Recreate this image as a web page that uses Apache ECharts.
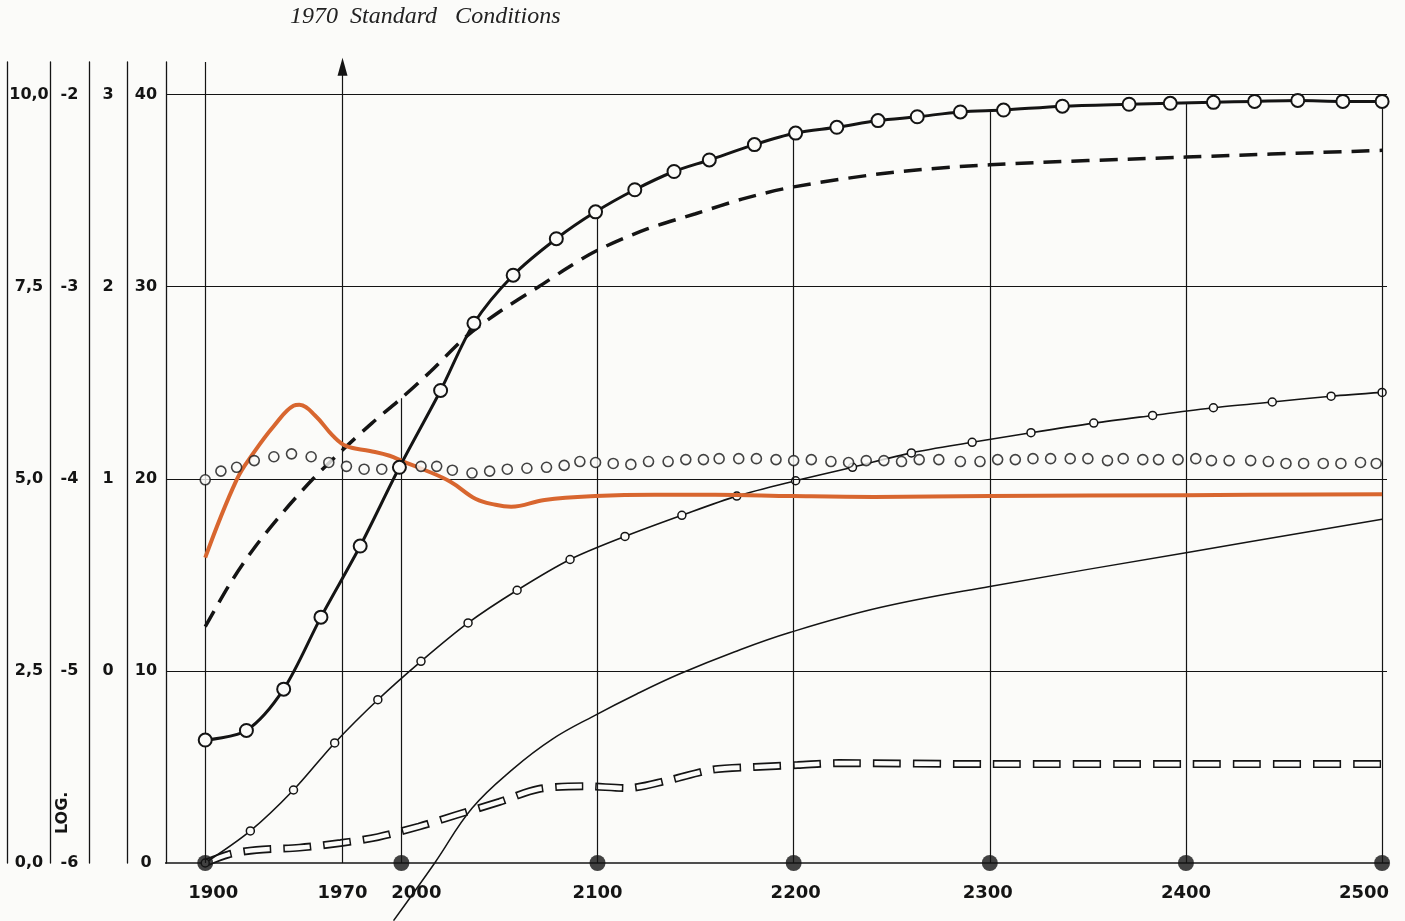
<!DOCTYPE html>
<html>
<head>
<meta charset="utf-8">
<title>1970 Standard Conditions</title>
<script src="https://cdn.jsdelivr.net/npm/echarts@6/dist/echarts.min.js"></script>
<style>
  html, body { margin: 0; padding: 0; background: #fbfbf9; }
  #chart { width: 1405px; height: 921px; }
</style>
</head>
<body>
<div id="chart"></div>
<script>
// 纵轴刻度（左侧四列）
const gridValues = [0, 10, 20, 30, 40]
const scaleMain = ['0', '10', '20', '30', '40']
const smallValues = [10, 20, 30, 40]
const scaleSmall = ['0', '1', '2', '3']
const scaleLog = ['-6', '-5', '-4', '-3', '-2']
const scalePct = ['0,0', '2,5', '5,0', '7,5', '10,0']

// 横轴
const yearTicks = [1900, 1970, 2000, 2100, 2200, 2300, 2400, 2500]
const yearLabels = ['1900', '1970', '2000', '2100', '2200', '2300', '2400', '2500']
const dotYears = [1900, 2000, 2100, 2200, 2300, 2400, 2500]
// 竖线顶端
const guideTops = [[1900, 41.7], [2000, 24.2], [2100, 33.9], [2200, 38.0], [2300, 39.2], [2400, 39.6], [2500, 39.65]]
const baseline = [[1840, 0], [2504, 0]]

// 粗实线 + 大圆圈
const bigCircles = [[1900, 6.4], [1921, 6.9], [1940, 9.05], [1959, 12.8], [1979, 16.5], [1999, 20.6], [2020, 24.6],
  [2037, 28.1], [2057, 30.6], [2079, 32.5], [2099, 33.9], [2119, 35.05], [2139, 36.0], [2157, 36.6], [2180, 37.4],
  [2201, 38.0], [2222, 38.3], [2243, 38.65], [2263, 38.85], [2285, 39.1], [2307, 39.2], [2337, 39.4], [2371, 39.5],
  [2392, 39.55], [2414, 39.6], [2435, 39.65], [2457, 39.7], [2480, 39.65], [2500, 39.65]]

// 粗虚线
const thickDashed = [[1900, 12.3], [1913, 14.6], [1925, 16.4], [1940, 18.3], [1955, 20.0], [1970, 21.5], [1985, 22.9],
  [2000, 24.2], [2015, 25.6], [2033, 27.4], [2050, 28.7], [2070, 30.0], [2085, 31.0], [2100, 31.9], [2125, 33.0],
  [2150, 33.8], [2175, 34.6], [2200, 35.2], [2250, 35.95], [2300, 36.35], [2400, 36.75], [2500, 37.1]]

// 细线 + 小圆圈
const smallCircles = [[1900, 0], [1923, 1.67], [1945, 3.8], [1966, 6.25], [1988, 8.5], [2010, 10.5], [2034, 12.5],
  [2059, 14.2], [2086, 15.8], [2114, 17.0], [2143, 18.1], [2171, 19.1], [2201, 19.9], [2230, 20.6], [2260, 21.35],
  [2291, 21.9], [2321, 22.4], [2353, 22.9], [2383, 23.3], [2414, 23.7], [2444, 24.0], [2474, 24.3], [2500, 24.5]]

// 圆点虚线
const dottedYears = [1900, 1908, 1916, 1925, 1935, 1944, 1954, 1963, 1972, 1981, 1990, 1999, 2010, 2018, 2026, 2036,
  2045, 2054, 2064, 2074, 2083, 2091, 2099, 2108, 2117, 2126, 2136, 2145, 2154, 2162, 2172, 2181, 2191, 2200, 2209,
  2219, 2228, 2237, 2246, 2255, 2264, 2274, 2285, 2295, 2304, 2313, 2322, 2331, 2341, 2350, 2360, 2368, 2378, 2386,
  2396, 2405, 2413, 2422, 2433, 2442, 2451, 2460, 2470, 2479, 2489, 2497]
const dottedValues = [19.95, 20.4, 20.6, 20.95, 21.15, 21.3, 21.15, 20.85, 20.65, 20.5, 20.5, 20.6, 20.65, 20.65, 20.45, 20.3,
  20.4, 20.5, 20.55, 20.6, 20.7, 20.9, 20.85, 20.8, 20.75, 20.9, 20.9, 21.0, 21.0, 21.05, 21.05, 21.05, 21.0, 20.95, 21.0,
  20.9, 20.85, 20.95, 20.95, 20.9, 21.0, 21.0, 20.9, 20.9, 21.0, 21.0, 21.05, 21.05, 21.05, 21.05, 20.95, 21.05, 21.0, 21.0,
  21.0, 21.05, 20.95, 20.95, 20.95, 20.9, 20.8, 20.8, 20.8, 20.8, 20.85, 20.8]

// 橙色线
const orangeLine = [[1900, 15.9], [1916, 19.95], [1925, 21.4], [1935, 22.75], [1945, 23.8], [1948, 23.85], [1956, 23.3],
  [1965, 22.25], [1972, 21.7], [1984, 21.45], [1994, 21.2], [2001, 20.9], [2011, 20.5], [2025, 19.85], [2038, 18.95],
  [2048, 18.65], [2056, 18.55], [2073, 18.9], [2099, 19.1], [2129, 19.17], [2160, 19.17], [2200, 19.1], [2241, 19.06],
  [2300, 19.1], [2400, 19.15], [2500, 19.2]]

// 细实线（从轴下方穿出）
const thinLine = [[1996, -3.0], [2017, 0], [2036, 2.85], [2057, 4.9], [2077, 6.45], [2098, 7.65], [2120, 8.8],
  [2142, 9.85], [2170, 11.0], [2198, 12.0], [2244, 13.3], [2300, 14.4], [2400, 16.15], [2500, 17.9]]

// 空心虚线
const hollowDashed = [[1900, 0], [1912, 0.45], [1926, 0.68], [1948, 0.8], [1969, 1.04], [1988, 1.35], [2009, 1.9],
  [2028, 2.5], [2050, 3.18], [2070, 3.85], [2093, 4.0], [2115, 3.9], [2136, 4.3], [2158, 4.85], [2180, 5.0],
  [2202, 5.1], [2223, 5.2], [2300, 5.15], [2400, 5.15], [2500, 5.15]]

const INK = '#141414'
const PAPER = '#fbfbf9'
const FONT = 'DejaVu Sans'
const xLabelShift = [8, 0, 15, 0, 2, -2, 0, -18] // 标签水平偏移

const chart = echarts.init(document.getElementById('chart'))

// 左侧刻度列
function sideAxis(offset, margin, values, labels) {
  return {
    type: 'value',
    min: 0,
    max: 41.7,
    position: 'left',
    offset,
    axisLine: { show: true, lineStyle: { color: INK, width: 1.3 } },
    axisTick: { show: false },
    splitLine: { show: false },
    axisLabel: {
      show: !!values,
      customValues: values || [],
      margin,
      align: 'center',
      verticalAlign: 'middle',
      padding: [0, 0, 11, 0],
      fontFamily: FONT,
      fontWeight: 'bold',
      fontSize: 16,
      color: INK,
      formatter: v => labels[values.indexOf(v)]
    }
  }
}

const rich = {}
xLabelShift.forEach((s, i) => {
  rich['t' + i] = {
    padding: s > 0 ? [0, 0, 0, 2 * s] : [0, -2 * s, 0, 0],
    fontFamily: FONT,
    fontWeight: 'bold',
    fontSize: 18,
    color: INK
  }
})

const option = {
  backgroundColor: PAPER,
  animation: false,
  grid: { left: 166, right: 18, top: 62, bottom: 58, outerBoundsMode: 'none' },
  xAxis: {
    type: 'value',
    min: 1880,
    max: 2502.5,
    axisLine: { show: false },
    axisTick: { show: false },
    splitLine: { show: false },
    axisLabel: {
      customValues: yearTicks,
      margin: 21,
      formatter: v => {
        const i = yearTicks.indexOf(v)
        return `{t${i}|${yearLabels[i]}}`
      },
      rich
    }
  },
  yAxis: [
    sideAxis(0, 20, gridValues, scaleMain),
    sideAxis(39, 19, smallValues, scaleSmall),
    sideAxis(77, 19.5, gridValues, scaleLog),
    sideAxis(116, 21, gridValues, scalePct),
    sideAxis(159, 0, null, [])
  ],
  graphic: [
    {
      type: 'text',
      left: 290,
      top: 5,
      style: { text: '1970  Standard   Conditions', font: 'italic 24px "Liberation Serif"', fill: '#222' }
    },
    {
      type: 'text',
      x: 55,
      y: 834,
      rotation: Math.PI / 2,
      style: { text: 'LOG.', font: 'bold 16px "DejaVu Sans"', fill: INK, verticalAlign: 'top' }
    }
  ],
  series: [
    {
      // 底线和网格
      type: 'line',
      data: baseline,
      symbol: 'none',
      clip: false,
      silent: true,
      lineStyle: { color: INK, width: 1.3 },
      z: 1,
      markLine: {
        silent: true,
        symbol: ['none', 'none'],
        label: { show: false },
        lineStyle: { color: INK, width: 1.2, type: 'solid' },
        data: [
          ...gridValues.slice(1).map(v => ({ yAxis: v })),
          ...guideTops.map(([yr, top]) => [{ coord: [yr, 0] }, { coord: [yr, top] }]),
          [{ coord: [1970, 0], symbol: 'none' }, { coord: [1970, 41.45], symbol: 'triangle', symbolSize: [10, 18] }]
        ]
      }
    },
    {
      // 空心虚线：外框
      type: 'line',
      data: hollowDashed,
      symbol: 'none',
      smooth: 0.3,
      lineStyle: { color: INK, width: 8, type: [28, 12], cap: 'butt' },
      z: 2
    },
    {
      // 空心虚线：内部
      type: 'line',
      data: hollowDashed,
      symbol: 'none',
      smooth: 0.3,
      lineStyle: { color: PAPER, width: 4.6, type: [25, 15], dashOffset: -1.5, cap: 'butt' },
      z: 2
    },
    {
      type: 'line',
      data: thinLine,
      symbol: 'none',
      smooth: 0.4,
      clip: false,
      lineStyle: { color: INK, width: 1.5 },
      z: 3
    },
    {
      type: 'line',
      data: smallCircles,
      smooth: 0.3,
      symbol: 'circle',
      symbolSize: 8,
      showSymbol: true,
      lineStyle: { color: INK, width: 1.6 },
      itemStyle: { color: PAPER, borderColor: INK, borderWidth: 1.5 },
      z: 4
    },
    {
      type: 'line',
      data: thickDashed,
      symbol: 'none',
      smooth: 0.3,
      lineStyle: { color: INK, width: 3.5, type: [18, 10], cap: 'butt' },
      z: 4
    },
    {
      type: 'line',
      data: orangeLine,
      symbol: 'none',
      smooth: 0.4,
      lineStyle: { color: '#d8662f', width: 4 },
      z: 5
    },
    {
      type: 'scatter',
      data: dottedYears.map((y, i) => [y, dottedValues[i]]),
      symbol: 'circle',
      symbolSize: 10,
      itemStyle: { color: PAPER, borderColor: INK, borderWidth: 1.6 },
      z: 6
    },
    {
      type: 'line',
      data: bigCircles,
      smooth: 0.3,
      symbol: 'circle',
      symbolSize: 13,
      showSymbol: true,
      lineStyle: { color: INK, width: 3 },
      itemStyle: { color: PAPER, borderColor: INK, borderWidth: 2 },
      z: 7
    },
    {
      type: 'scatter',
      data: dotYears.map(y => [y, 0]),
      symbol: 'circle',
      symbolSize: 16,
      clip: false,
      itemStyle: { color: INK },
      z: 8
    }
  ]
}

chart.setOption(option)
</script>
</body>
</html>
